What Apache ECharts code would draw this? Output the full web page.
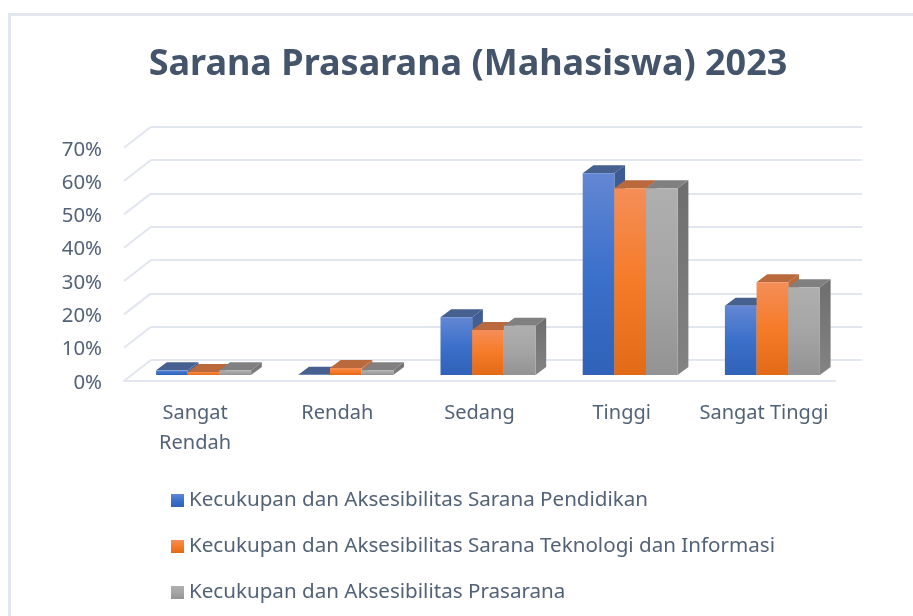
<!DOCTYPE html>
<html>
<head>
<meta charset="utf-8">
<title>Sarana Prasarana (Mahasiswa) 2023</title>
<script src="https://cdn.jsdelivr.net/npm/echarts@6/dist/echarts.min.js"></script>
<style>
  html, body { margin: 0; padding: 0; background: #fff; }
  #main { width: 913px; height: 616px; }
</style>
</head>
<body>
<div id="main"></div>
<script>
// data
var categories = ["Sangat\nRendah", "Rendah", "Sedang", "Tinggi", "Sangat Tinggi"];
var pendidikan = [1.4, 0.1, 17.3, 60.5, 20.8];
var teknologi = [0.9, 2.1, 13.5, 56, 27.8];
var prasarana = [1.4, 1.4, 14.8, 56, 26.3];
var seriesNames = [
  "Kecukupan dan Aksesibilitas Sarana Pendidikan",
  "Kecukupan dan Aksesibilitas Sarana Teknologi dan Informasi",
  "Kecukupan dan Aksesibilitas Prasarana"
];
var yTicks = [0, 10, 20, 30, 40, 50, 60, 70];

var textColor = "#526277";
var gridColor = "#e2e6ef";
var font = "'Noto Sans', 'Open Sans', sans-serif";

var palette = [
  { stops: ["#6387d3", "#3b70cb", "#2f62b8"], top: "#46608f", side: "#3c5a92" },
  { stops: ["#f48e58", "#f67b28", "#e26a17"], top: "#b9693b", side: "#b9693b" },
  { stops: ["#afafaf", "#a5a5a5", "#939393"], top: "#808080", side: "#6e6e6e" }
];

function faceGradient(c) {
  return new echarts.graphic.LinearGradient(0, 0, 0, 1, [
    { offset: 0, color: c.stops[0] },
    { offset: 0.5, color: c.stops[1] },
    { offset: 1, color: c.stops[2] }
  ]);
}

// bars stand a little behind the front edge of the floor
var barShift = [8.5, -6];
var barDepth = [10.7, -8];
var barRatio = 0.2227;

function renderBar(seriesIdx) {
  return function (params, api) {
    var band = api.size([1, 0])[0];
    var w = band * barRatio;
    var top = api.coord([api.value(0), api.value(1)]);
    var base = api.coord([api.value(0), 0]);
    var x = top[0] - w * 1.5 + w * seriesIdx + barShift[0];
    var y0 = base[1] + barShift[1];
    var y1 = top[1] + barShift[1];
    var dx = barDepth[0], dy = barDepth[1];
    var c = palette[seriesIdx];
    return {
      type: "group",
      children: [
        { type: "polygon", shape: { points: [[x + w, y1], [x + w + dx, y1 + dy], [x + w + dx, y0 + dy], [x + w, y0]] },
          style: { fill: new echarts.graphic.LinearGradient(0, 0, 0, 1, [
            { offset: 0, color: c.side }, { offset: 1, color: echarts.color.lift(c.side, 0.15) }
          ]) } },
        { type: "polygon", shape: { points: [[x, y1], [x + w, y1], [x + w + dx, y1 + dy], [x + dx, y1 + dy]] },
          style: { fill: c.top } },
        { type: "rect", shape: { x: x, y: y1, width: w, height: y0 - y1 },
          style: { fill: faceGradient(c) } }
      ]
    };
  };
}

function barSeries(idx, values) {
  return {
    name: seriesNames[idx],
    type: "custom",
    coordinateSystem: "cartesian2d",
    xAxisIndex: 0,
    yAxisIndex: 0,
    z: 5,
    itemStyle: { color: faceGradient(palette[idx]) },
    renderItem: renderBar(idx),
    encode: { x: 0, y: 1 },
    data: values.map(function (v, i) { return [i, v]; })
  };
}

// slanted lines on the left wall, one for each tick
function renderWall(params, api) {
  var band = api.size([1, 0])[0];
  var p = api.coord([0, api.value(0)]);
  var x = p[0] - band / 2;
  return {
    type: "line",
    shape: { x1: x, y1: p[1], x2: x + 27, y2: p[1] - 21 },
    style: { stroke: gridColor, lineWidth: 2 }
  };
}

var myChart = echarts.init(document.getElementById("main"), null, { renderer: "canvas" });
myChart.setOption({
  animation: false,
  backgroundColor: "#fff",
  graphic: [{
    type: "rect",
    silent: true,
    z: -10,
    shape: { x: 9.5, y: 14.5, width: 1000, height: 1000 },
    style: { fill: "none", stroke: gridColor, lineWidth: 3 }
  }],
  title: {
    text: "Sarana Prasarana (Mahasiswa) 2023",
    left: 468,
    top: 47,
    padding: 0,
    textAlign: "center",
    textStyle: { color: "#44546a", fontFamily: font, fontWeight: "bold", fontSize: 36 }
  },
  legend: {
    orient: "vertical",
    left: 171,
    top: 490,
    padding: 0,
    itemWidth: 13,
    itemHeight: 13,
    itemGap: 25,
    icon: "rect",
    data: seriesNames,
    selectedMode: false,
    textStyle: { color: textColor, fontFamily: font, fontSize: 20.6 }
  },
  grid: [
    { left: 124, top: 147.7, width: 711, height: 233.3 },
    { left: 151, top: 126.7, width: 711, height: 233.3 }
  ],
  xAxis: [
    {
      type: "category",
      gridIndex: 0,
      data: categories,
      axisTick: { show: false },
      axisLine: { lineStyle: { color: gridColor, width: 2 } },
      axisLabel: { color: textColor, fontFamily: font, fontSize: 20, margin: 17, lineHeight: 30, interval: 0 }
    },
    {
      type: "category",
      gridIndex: 1,
      data: categories,
      show: false
    }
  ],
  yAxis: [
    {
      type: "value",
      gridIndex: 0,
      min: yTicks[0],
      max: yTicks[yTicks.length - 1],
      interval: 10,
      splitLine: { show: false },
      axisLine: { show: false },
      axisTick: { show: false },
      // labels sit a bit under their tick in the picture
      axisLabel: { color: textColor, fontFamily: font, fontSize: 20.4, margin: 22, verticalAlign: "top", lineHeight: 4, formatter: "{value}%" }
    },
    {
      type: "value",
      gridIndex: 1,
      min: yTicks[0],
      max: yTicks[yTicks.length - 1],
      interval: 10,
      axisLine: { show: false },
      axisTick: { show: false },
      axisLabel: { show: false },
      splitLine: { show: true, lineStyle: { color: gridColor, width: 2 } }
    }
  ],
  series: [
    {
      type: "custom",
      coordinateSystem: "cartesian2d",
      xAxisIndex: 0,
      yAxisIndex: 0,
      silent: true,
      z: 1,
      renderItem: renderWall,
      encode: { y: 0 },
      data: yTicks.map(function (t) { return [t]; })
    },
    barSeries(0, pendidikan),
    barSeries(1, teknologi),
    barSeries(2, prasarana)
  ]
});
</script>
</body>
</html>
